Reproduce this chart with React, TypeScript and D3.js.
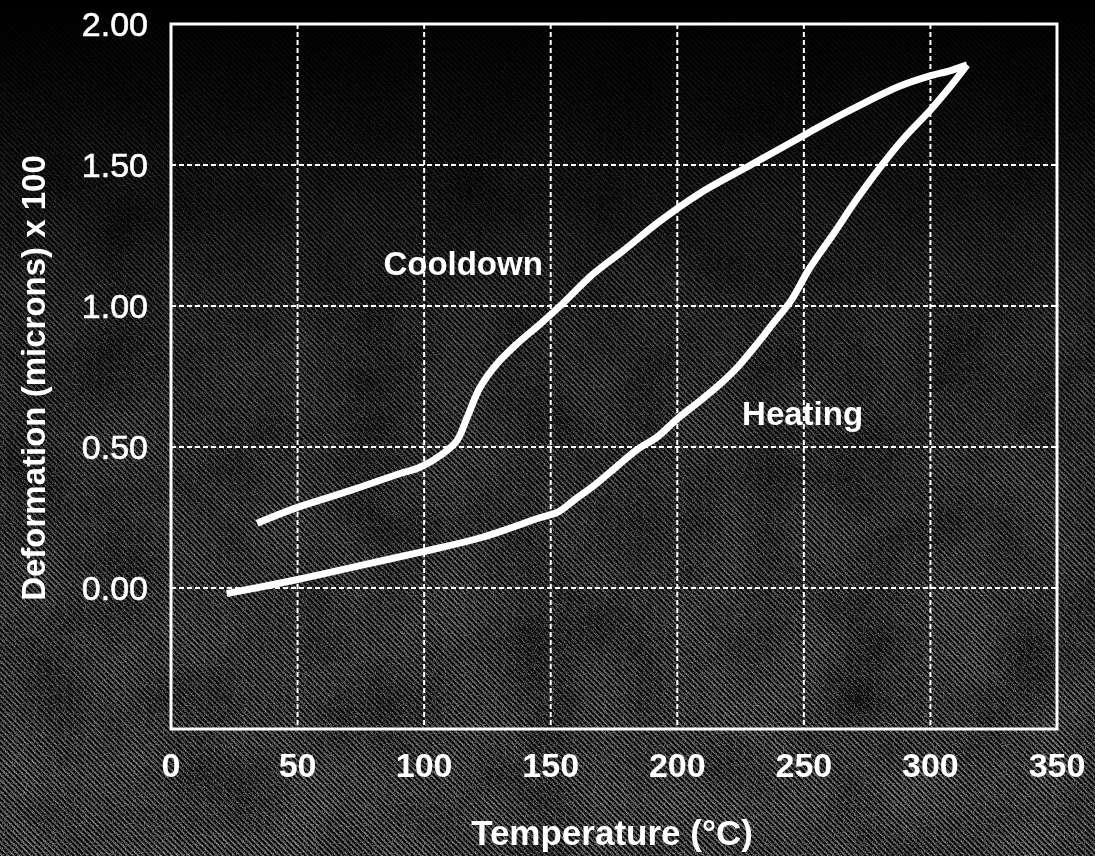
import React from "react";
import * as d3 from "d3";

// ---- data ----
const xTicks = [0, 50, 100, 150, 200, 250, 300, 350];
const yTicks = [0, 0.5, 1.0, 1.5, 2.0];
const yTickLabels = ["0.00", "0.50", "1.00", "1.50", "2.00"];

const heatingT = [22, 50, 75, 100, 123, 146, 153, 159, 168, 176, 184, 192, 200, 209, 217, 224, 231, 238, 245, 252, 262, 271, 280, 290, 300, 308, 314.5];
const heatingD = [-0.02, 0.03, 0.08, 0.13, 0.18, 0.25, 0.27, 0.31, 0.37, 0.43, 0.49, 0.535, 0.6, 0.664, 0.724, 0.785, 0.86, 0.94, 1.02, 1.13, 1.26, 1.38, 1.49, 1.6, 1.695, 1.78, 1.855];

const cooldownT = [314.5, 308, 299.5, 288, 275, 262, 251, 240, 229, 209, 193, 178.5, 166.7, 153.7, 145.8, 136.7, 128.8, 122, 117, 113, 107.5, 98.4, 90.5, 71, 50, 34];
const cooldownD = [1.855, 1.835, 1.815, 1.78, 1.725, 1.665, 1.61, 1.555, 1.5, 1.4, 1.3, 1.195, 1.113, 1.0, 0.936, 0.866, 0.795, 0.71, 0.605, 0.523, 0.477, 0.428, 0.406, 0.346, 0.286, 0.23];

const annotations = [
  { text: "Cooldown", t: 115.4, d: 1.11 },
  { text: "Heating", t: 249.5, d: 0.578 },
];

const xTitle = "Temperature (°C)";
const yTitle = "Deformation (microns) x 100";

// ---- layout ----
const W = 1095;
const H = 856;
const x = d3.scaleLinear().domain([0, 350]).range([171, 1057]);
const y = d3.scaleLinear().domain([-0.5, 2.0]).range([729, 24]);

const FONT = "'Liberation Sans', Arial, Helvetica, sans-serif";

export default function App() {
  const line = d3
    .line<[number, number]>()
    .x((p) => x(p[0]))
    .y((p) => y(p[1]))
    .curve(d3.curveCatmullRom.alpha(0.5));
  const heat: [number, number][] = heatingT.map((t, i) => [t, heatingD[i]]);
  const cool: [number, number][] = cooldownT.map((t, i) => [t, cooldownD[i]]);
  const [x0, x1] = x.range();
  const [yb, yt] = y.range();

  return (
    <svg
      width={W}
      height={H}
      style={{ position: "absolute", left: 0, top: 0, background: "#000" }}
    >
      <defs>
        <pattern id="hatch" width="4" height="4" patternUnits="userSpaceOnUse" patternTransform="rotate(-45)">
          <rect x="0" y="0" width="1.6" height="4" fill="#c8c8c8" />
        </pattern>
        <linearGradient id="vgrad" x1="0" y1="0" x2="0" y2="1">
          <stop offset="0" stopColor="#000" />
          <stop offset="0.15" stopColor="#2a2a2a" />
          <stop offset="0.4" stopColor="#888" />
          <stop offset="0.7" stopColor="#b0b0b0" />
          <stop offset="1" stopColor="#d0d0d0" />
        </linearGradient>
        <filter id="blotch" x="0" y="0" width="100%" height="100%">
          <feTurbulence type="fractalNoise" baseFrequency="0.012" numOctaves="3" seed="7" />
          <feColorMatrix type="saturate" values="0" />
          <feComponentTransfer>
            <feFuncR type="linear" slope="1.8" intercept="-0.25" />
            <feFuncG type="linear" slope="1.8" intercept="-0.25" />
            <feFuncB type="linear" slope="1.8" intercept="-0.25" />
            <feFuncA type="linear" slope="0" intercept="1" />
          </feComponentTransfer>
        </filter>
        <filter id="speck" x="0" y="0" width="100%" height="100%">
          <feTurbulence type="fractalNoise" baseFrequency="0.9" numOctaves="1" seed="3" />
          <feColorMatrix
            type="matrix"
            values="0 0 0 0 1  0 0 0 0 1  0 0 0 0 1  9 0 0 0 -5.0"
          />
        </filter>
        <mask id="m1" maskUnits="userSpaceOnUse" x="0" y="0" width={W} height={H}>
          <rect width={W} height={H} fill="url(#vgrad)" />
          <rect width={W} height={H} filter="url(#blotch)" style={{ mixBlendMode: "multiply" }} />
        </mask>
        <mask id="m2" maskUnits="userSpaceOnUse" x="0" y="0" width={W} height={H}>
          <rect width={W} height={H} fill="url(#vgrad)" />
        </mask>
      </defs>

      {/* background texture */}
      <rect width={W} height={H} fill="#000" />
      <rect width={W} height={H} fill="url(#hatch)" mask="url(#m1)" opacity={0.8} />
      <rect width={W} height={H} filter="url(#speck)" mask="url(#m2)" opacity={0.4} />

      {/* grid */}
      <g stroke="#fff" strokeWidth={2} strokeDasharray="5 3" fill="none">
        {xTicks
          .filter((t) => t > 0 && t < 350)
          .map((t) => (
            <line key={"gx" + t} x1={x(t)} x2={x(t)} y1={yt} y2={yb} />
          ))}
        {yTicks
          .filter((t) => t < 2.0)
          .map((t) => (
            <line key={"gy" + t} x1={x0} x2={x1} y1={y(t)} y2={y(t)} />
          ))}
      </g>

      {/* frame */}
      <rect x={x0} y={yt} width={x1 - x0} height={yb - yt} fill="none" stroke="#fff" strokeWidth={3} />

      {/* curves */}
      <g fill="none" stroke="#fff" strokeWidth={7} strokeLinejoin="round" strokeLinecap="butt">
        <path d={line(heat) || ""} />
        <path d={line(cool) || ""} />
      </g>

      {/* y tick labels */}
      <g fill="#fff" fontFamily={FONT} fontSize={34} textAnchor="end" stroke="#fff" strokeWidth={0.6}>
        {yTicks.map((t, i) => (
          <text key={"yl" + t} x={148} y={y(t)} dy="0.36em">
            {yTickLabels[i]}
          </text>
        ))}
      </g>

      {/* x tick labels */}
      <g fill="#fff" fontFamily={FONT} fontSize={34} fontWeight="bold" textAnchor="middle">
        {xTicks.map((t) => (
          <text key={"xl" + t} x={x(t)} y={777}>
            {String(t)}
          </text>
        ))}
      </g>

      {/* annotations */}
      <g fill="#fff" fontFamily={FONT} fontSize={33} fontWeight="bold" textAnchor="middle">
        {annotations.map((a) => (
          <text key={a.text} x={x(a.t)} y={y(a.d)}>
            {a.text}
          </text>
        ))}
      </g>

      {/* axis titles */}
      <text x={612} y={845} fill="#fff" fontFamily={FONT} fontSize={35} fontWeight="bold" textAnchor="middle">
        {xTitle}
      </text>
      <text
        transform={`translate(45, ${378}) rotate(-90)`}
        fill="#fff"
        fontFamily={FONT}
        fontSize={33}
        fontWeight="bold"
        textAnchor="middle"
      >
        {yTitle}
      </text>
    </svg>
  );
}
